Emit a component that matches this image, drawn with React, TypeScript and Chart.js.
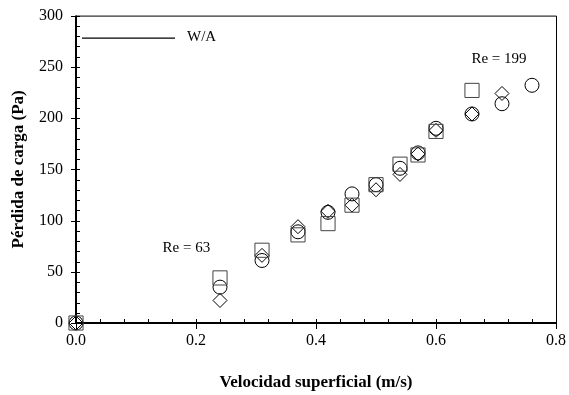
import React, { useEffect, useRef } from "react";
import { Chart, registerables } from "chart.js";

Chart.register(...registerables);

// Superficial velocity (m/s) and pressure drop (Pa) for each marker series
const velSquares = [0, 0.24, 0.31, 0.37, 0.42, 0.46, 0.5, 0.54, 0.57, 0.6, 0.66];
const dropSquares = [0, 44, 71, 86, 97, 115, 135, 155, 164, 187, 227];

const velCircles = [0, 0.24, 0.31, 0.37, 0.42, 0.46, 0.5, 0.54, 0.57, 0.6, 0.66, 0.71, 0.76];
const dropCircles = [0, 35, 61, 89, 108, 126, 135, 151, 166, 190, 204, 214, 232];

const velDiamonds = [0, 0.24, 0.31, 0.37, 0.42, 0.46, 0.5, 0.54, 0.57, 0.6, 0.66, 0.71];
const dropDiamonds = [0, 22, 66, 94, 109, 115, 130, 145, 165, 188, 204, 224];

const xTickValues = [0, 0.2, 0.4, 0.6, 0.8];
const yTickValues = [0, 50, 100, 150, 200, 250, 300];

const legendLabel = "W/A";
const annotations = [
  { text: "Re = 63", x: 0.184, y: 73 },
  { text: "Re = 199", x: 0.705, y: 258 },
];

const SERIF = "'Liberation Serif', 'Times New Roman', serif";

const toPoints = (xs: number[], ys: number[]) => xs.map((x, i) => ({ x, y: ys[i] }));

const framePlugin = {
  id: "frame",
  beforeDatasetsDraw(chart: any) {
    const { ctx, chartArea, scales } = chart;
    const { left, right, top, bottom } = chartArea;
    const xs = scales.x;
    const ys = scales.y;
    ctx.save();
    // thin top & right border
    ctx.strokeStyle = "#000";
    ctx.lineWidth = 1;
    ctx.beginPath();
    ctx.moveTo(left, top + 0.5);
    ctx.lineTo(right + 0.5, top + 0.5);
    ctx.lineTo(right + 0.5, bottom);
    ctx.stroke();
    // thick left & bottom axes
    ctx.lineWidth = 2;
    ctx.beginPath();
    ctx.moveTo(left, top);
    ctx.lineTo(left, bottom + 1);
    ctx.moveTo(left - 1, bottom);
    ctx.lineTo(right + 1, bottom);
    ctx.stroke();
    // ticks
    ctx.lineWidth = 1;
    ctx.beginPath();
    for (let v = 0; v <= 300.001; v += 10) {
      const y = Math.round(ys.getPixelForValue(v)) + 0.5;
      const major = Math.round(v) % 50 === 0;
      ctx.moveTo(major ? left - 5 : left, y);
      ctx.lineTo(left + 4, y);
    }
    for (let i = 0; i <= 20; i++) {
      const v = i * 0.04;
      const x = Math.round(xs.getPixelForValue(v)) + 0.5;
      const major = i % 5 === 0;
      ctx.moveTo(x, bottom - 4);
      ctx.lineTo(x, major ? bottom + 6 : bottom);
    }
    ctx.stroke();
    ctx.restore();
  },
  afterDraw(chart: any) {
    const { ctx, chartArea, scales } = chart;
    ctx.save();
    ctx.fillStyle = "#000";
    ctx.strokeStyle = "#000";
    ctx.font = `15px ${SERIF}`;
    ctx.textBaseline = "middle";
    // legend entry (line only)
    const ly = chartArea.top + 22.5;
    ctx.lineWidth = 1.2;
    ctx.beginPath();
    ctx.moveTo(chartArea.left + 6, ly);
    ctx.lineTo(chartArea.left + 99, ly);
    ctx.stroke();
    ctx.textAlign = "left";
    ctx.fillText(legendLabel, chartArea.left + 111, ly - 1);
    // annotations
    ctx.textAlign = "center";
    annotations.forEach((a) => {
      ctx.fillText(a.text, scales.x.getPixelForValue(a.x), scales.y.getPixelForValue(a.y));
    });
    ctx.restore();
  },
};

export default function App() {
  const ref = useRef<HTMLCanvasElement>(null);
  useEffect(() => {
    if (!ref.current) return;
    const common = {
      showLine: false,
      clip: false as any,
      backgroundColor: "rgba(0,0,0,0)",
      borderWidth: 1,
    };
    const chart = new Chart(ref.current, {
      type: "scatter",
      data: {
        datasets: [
          {
            ...common,
            label: "squares",
            data: toPoints(velSquares, dropSquares),
            pointStyle: "rect",
            pointRadius: 10,
            borderColor: "#444",
          },
          {
            ...common,
            label: "circles",
            data: toPoints(velCircles, dropCircles),
            pointStyle: "circle",
            pointRadius: 7,
            borderColor: "#000",
          },
          {
            ...common,
            label: "diamonds",
            data: toPoints(velDiamonds, dropDiamonds),
            pointStyle: "rectRot",
            pointRadius: 7,
            borderColor: "#000",
          },
        ] as any,
      },
      options: {
        responsive: false,
        animation: false,
        events: [],
        layout: { padding: { top: 8, right: 8, left: 0, bottom: 0 } },
        plugins: {
          legend: { display: false },
          tooltip: { enabled: false },
        },
        scales: {
          x: {
            type: "linear",
            min: 0,
            max: 0.8,
            afterFit: (s: any) => {
              s.height = 72;
            },
            afterBuildTicks: (s: any) => {
              s.ticks = xTickValues.map((v) => ({ value: v }));
            },
            ticks: {
              callback: (v: any) => Number(v).toFixed(1),
              font: { family: SERIF, size: 16 },
              color: "#000",
              padding: 8,
              maxRotation: 0,
              autoSkip: false,
            },
            grid: { display: false, drawTicks: false },
            border: { display: false },
            title: {
              display: true,
              text: "Velocidad superficial (m/s)",
              font: { family: SERIF, size: 17, weight: "bold" },
              color: "#000",
              padding: { top: 0, bottom: 2 },
            },
          },
          y: {
            type: "linear",
            min: 0,
            max: 300,
            afterFit: (s: any) => {
              s.width = 76;
            },
            afterBuildTicks: (s: any) => {
              s.ticks = yTickValues.map((v) => ({ value: v }));
            },
            ticks: {
              font: { family: SERIF, size: 16 },
              color: "#000",
              padding: 13,
              autoSkip: false,
            },
            grid: { display: false, drawTicks: false },
            border: { display: false },
            title: {
              display: true,
              text: "Pérdida de carga (Pa)",
              font: { family: SERIF, size: 17, weight: "bold" },
              color: "#000",
              padding: { top: 8, bottom: 0 },
            },
          },
        },
      } as any,
      plugins: [framePlugin],
    });
    return () => chart.destroy();
  }, []);
  return (
    <div
      style={{
        position: "fixed",
        left: 0,
        top: 0,
        width: 569,
        height: 395,
        background: "#fff",
        overflow: "hidden",
      }}
    >
      <canvas
        ref={ref}
        width={574}
        height={402}
        style={{ display: "block", position: "absolute", left: 0, top: -7 }}
      />
    </div>
  );
}
